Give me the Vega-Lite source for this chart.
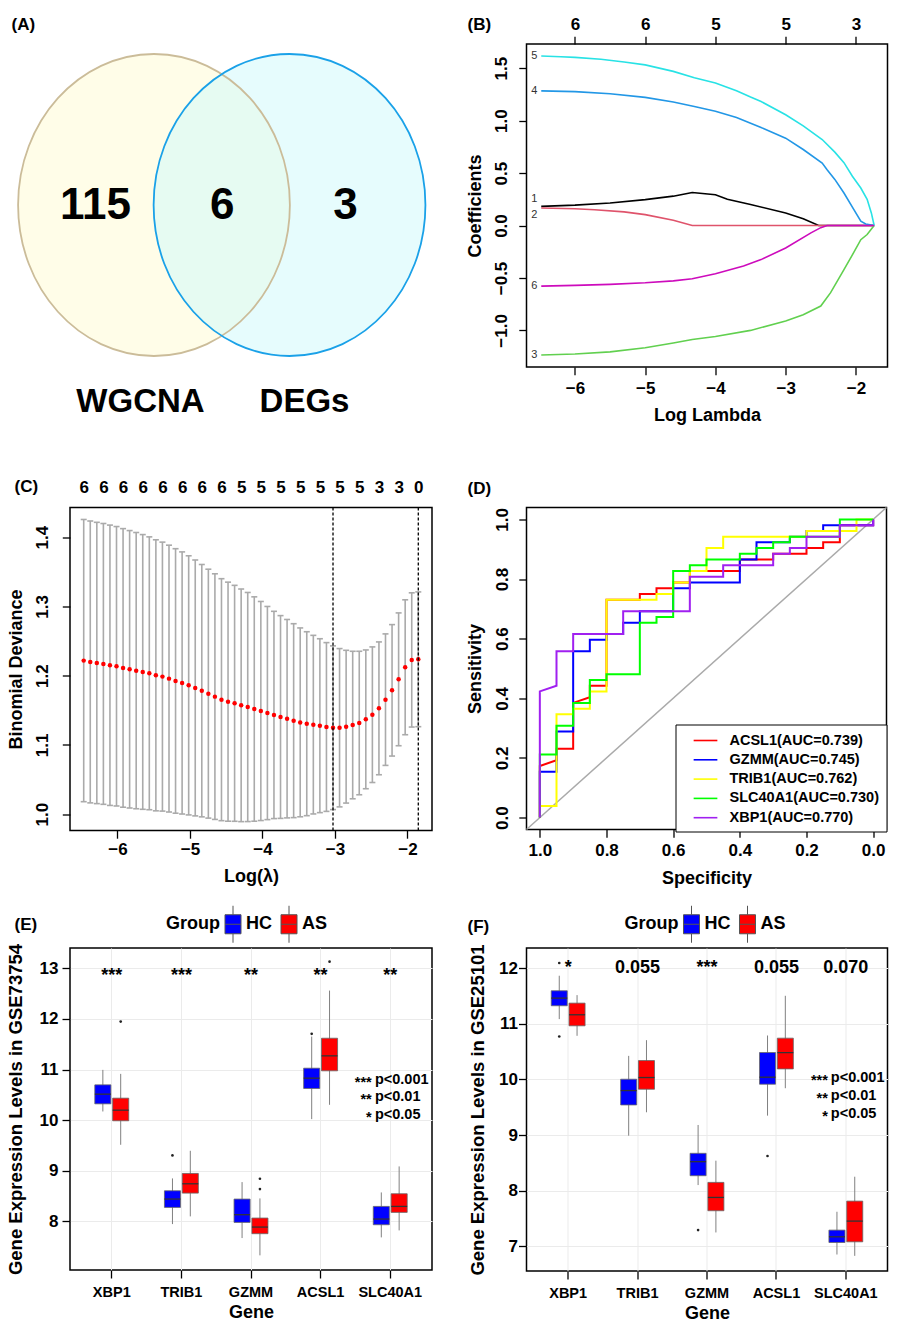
{
"$schema": "https://vega.github.io/schema/vega-lite/v6.json",
"padding": {"left": 5, "top": 14, "right": 5, "bottom": 0},
"background": "white",
"columns": 2,
"bounds": "flush",
"spacing": {"row": 117.5, "column": 94.5},
"resolve": {"scale": {"x": "independent", "y": "independent", "color": "independent", "fill": "independent", "stroke": "independent", "xOffset": "independent"}, "legend": {"color": "independent", "fill": "independent", "stroke": "independent"}},
"datasets": {
"venn": [
{"set": "WGCNA", "cx": 2.320, "cy": 5.347, "lx": 1.948, "ly": -0.347},
{"set": "DEGs", "cx": 6.064, "cy": 5.347, "lx": 6.478, "ly": -0.347}
],
"venn_n": [
{"n": "115", "x": 0.704, "y": 5.318},
{"n": "6", "x": 4.204, "y": 5.318},
{"n": "3", "x": 7.610, "y": 5.318}
],
"lasso": [
{"v":"1","x":-6.48,"y":0.183},{"v":"1","x":-6.0,"y":0.195},{"v":"1","x":-5.5,"y":0.215},{"v":"1","x":-5.0,"y":0.247},{"v":"1","x":-4.6,"y":0.28},{"v":"1","x":-4.33,"y":0.315},{"v":"1","x":-4.0,"y":0.293},{"v":"1","x":-3.83,"y":0.25},{"v":"1","x":-3.5,"y":0.2},{"v":"1","x":-3.0,"y":0.12},{"v":"1","x":-2.75,"y":0.065},{"v":"1","x":-2.53,"y":0.0},{"v":"1","x":-1.74,"y":0.0},
{"v":"2","x":-6.48,"y":0.167},{"v":"2","x":-6.0,"y":0.16},{"v":"2","x":-5.72,"y":0.151},{"v":"2","x":-5.3,"y":0.13},{"v":"2","x":-5.0,"y":0.104},{"v":"2","x":-4.6,"y":0.05},{"v":"2","x":-4.33,"y":0.0},{"v":"2","x":-1.74,"y":0.0},
{"v":"3","x":-6.48,"y":-1.235},{"v":"3","x":-6.0,"y":-1.225},{"v":"3","x":-5.5,"y":-1.205},{"v":"3","x":-5.0,"y":-1.165},{"v":"3","x":-4.6,"y":-1.12},{"v":"3","x":-4.33,"y":-1.086},{"v":"3","x":-4.0,"y":-1.058},{"v":"3","x":-3.5,"y":-1.0},{"v":"3","x":-3.0,"y":-0.91},{"v":"3","x":-2.75,"y":-0.85},{"v":"3","x":-2.5,"y":-0.768},{"v":"3","x":-2.36,"y":-0.64},{"v":"3","x":-2.17,"y":-0.42},{"v":"3","x":-2.05,"y":-0.28},{"v":"3","x":-1.93,"y":-0.135},{"v":"3","x":-1.84,"y":-0.086},{"v":"3","x":-1.74,"y":0.0},
{"v":"4","x":-6.48,"y":1.284},{"v":"4","x":-6.0,"y":1.277},{"v":"4","x":-5.5,"y":1.257},{"v":"4","x":-5.0,"y":1.222},{"v":"4","x":-4.6,"y":1.178},{"v":"4","x":-4.3,"y":1.135},{"v":"4","x":-4.0,"y":1.09},{"v":"4","x":-3.7,"y":1.03},{"v":"4","x":-3.35,"y":0.935},{"v":"4","x":-3.0,"y":0.833},{"v":"4","x":-2.75,"y":0.725},{"v":"4","x":-2.48,"y":0.596},{"v":"4","x":-2.41,"y":0.532},{"v":"4","x":-2.3,"y":0.44},{"v":"4","x":-2.17,"y":0.31},{"v":"4","x":-2.05,"y":0.175},{"v":"4","x":-1.93,"y":0.041},{"v":"4","x":-1.86,"y":0.015},{"v":"4","x":-1.74,"y":0.0},
{"v":"5","x":-6.48,"y":1.617},{"v":"5","x":-6.2,"y":1.61},{"v":"5","x":-6.0,"y":1.603},{"v":"5","x":-5.63,"y":1.586},{"v":"5","x":-5.3,"y":1.56},{"v":"5","x":-5.0,"y":1.532},{"v":"5","x":-4.6,"y":1.47},{"v":"5","x":-4.3,"y":1.41},{"v":"5","x":-4.0,"y":1.36},{"v":"5","x":-3.7,"y":1.285},{"v":"5","x":-3.5,"y":1.225},{"v":"5","x":-3.35,"y":1.183},{"v":"5","x":-3.0,"y":1.056},{"v":"5","x":-2.75,"y":0.95},{"v":"5","x":-2.48,"y":0.82},{"v":"5","x":-2.3,"y":0.70},{"v":"5","x":-2.17,"y":0.60},{"v":"5","x":-2.05,"y":0.47},{"v":"5","x":-1.93,"y":0.358},{"v":"5","x":-1.84,"y":0.25},{"v":"5","x":-1.78,"y":0.12},{"v":"5","x":-1.74,"y":0.0},
{"v":"6","x":-6.48,"y":-0.578},{"v":"6","x":-6.0,"y":-0.571},{"v":"6","x":-5.5,"y":-0.561},{"v":"6","x":-5.0,"y":-0.546},{"v":"6","x":-4.6,"y":-0.528},{"v":"6","x":-4.33,"y":-0.508},{"v":"6","x":-4.0,"y":-0.46},{"v":"6","x":-3.6,"y":-0.385},{"v":"6","x":-3.35,"y":-0.325},{"v":"6","x":-3.0,"y":-0.214},{"v":"6","x":-2.64,"y":-0.07},{"v":"6","x":-2.5,"y":-0.02},{"v":"6","x":-2.41,"y":0.0},{"v":"6","x":-1.74,"y":0.0}
],
"lasso_lab": [
{"v":"1","x":-6.58,"y":0.25},{"v":"2","x":-6.58,"y":0.105},{"v":"3","x":-6.58,"y":-1.235},{"v":"4","x":-6.58,"y":1.284},{"v":"5","x":-6.58,"y":1.617},{"v":"6","x":-6.58,"y":-0.575}
],
"cv": [
{"x":-6.466,"m":1.2217,"lo":1.0180,"hi":1.4255},{"x":-6.3755,"m":1.2198,"lo":1.0163,"hi":1.4233},{"x":-6.285,"m":1.2183,"lo":1.0152,"hi":1.4214},{"x":-6.1945,"m":1.2169,"lo":1.0142,"hi":1.4197},{"x":-6.104,"m":1.2150,"lo":1.0126,"hi":1.4174},{"x":-6.0135,"m":1.2135,"lo":1.0118,"hi":1.4153},{"x":-5.9231,"m":1.2111,"lo":1.0100,"hi":1.4123},{"x":-5.8326,"m":1.2092,"lo":1.0089,"hi":1.4095},{"x":-5.7421,"m":1.2072,"lo":1.0078,"hi":1.4067},{"x":-5.6516,"m":1.2053,"lo":1.0070,"hi":1.4037},
{"x":-5.5611,"m":1.2034,"lo":1.0064,"hi":1.4004},{"x":-5.4706,"m":1.2005,"lo":1.0048,"hi":1.3962},{"x":-5.3801,"m":1.1986,"lo":1.0044,"hi":1.3928},{"x":-5.2896,"m":1.1957,"lo":1.0031,"hi":1.3884},{"x":-5.1991,"m":1.1923,"lo":1.0014,"hi":1.3833},{"x":-5.1086,"m":1.1894,"lo":1.0002,"hi":1.3787},{"x":-5.0182,"m":1.1860,"lo":0.9989,"hi":1.3731},{"x":-4.9277,"m":1.1822,"lo":0.9975,"hi":1.3670},{"x":-4.8372,"m":1.1783,"lo":0.9961,"hi":1.3605},{"x":-4.7467,"m":1.1740,"lo":0.9943,"hi":1.3537},
{"x":-4.6562,"m":1.1697,"lo":0.9924,"hi":1.3471},{"x":-4.5657,"m":1.1653,"lo":0.9906,"hi":1.3400},{"x":-4.4752,"m":1.1624,"lo":0.9898,"hi":1.3350},{"x":-4.3847,"m":1.1600,"lo":0.9897,"hi":1.3304},{"x":-4.2942,"m":1.1571,"lo":0.9892,"hi":1.3251},{"x":-4.2037,"m":1.1547,"lo":0.9893,"hi":1.3201},{"x":-4.1133,"m":1.1518,"lo":0.9898,"hi":1.3138},{"x":-4.0228,"m":1.1489,"lo":0.9908,"hi":1.3071},{"x":-3.9323,"m":1.1460,"lo":0.9921,"hi":1.2999},{"x":-3.8418,"m":1.1432,"lo":0.9936,"hi":1.2929},
{"x":-3.7513,"m":1.1403,"lo":0.9939,"hi":1.2867},{"x":-3.6608,"m":1.1378,"lo":0.9946,"hi":1.2811},{"x":-3.5703,"m":1.1350,"lo":0.9950,"hi":1.2750},{"x":-3.4798,"m":1.1325,"lo":0.9962,"hi":1.2689},{"x":-3.3893,"m":1.1306,"lo":0.9978,"hi":1.2634},{"x":-3.2988,"m":1.1292,"lo":1.0003,"hi":1.2582},{"x":-3.2084,"m":1.1277,"lo":1.0022,"hi":1.2533},{"x":-3.1179,"m":1.1258,"lo":1.0040,"hi":1.2477},{"x":-3.0274,"m":1.1248,"lo":1.0066,"hi":1.2430},{"x":-2.9369,"m":1.1248,"lo":1.0105,"hi":1.2391},
{"x":-2.8464,"m":1.1263,"lo":1.0160,"hi":1.2366},{"x":-2.7559,"m":1.1287,"lo":1.0222,"hi":1.2352},{"x":-2.6654,"m":1.1316,"lo":1.0280,"hi":1.2352},{"x":-2.5749,"m":1.1369,"lo":1.0367,"hi":1.2371},{"x":-2.4844,"m":1.1436,"lo":1.0457,"hi":1.2415},{"x":-2.3939,"m":1.1528,"lo":1.0569,"hi":1.2487},{"x":-2.3035,"m":1.1653,"lo":1.0704,"hi":1.2603},{"x":-2.2130,"m":1.1788,"lo":1.0839,"hi":1.2737},{"x":-2.1225,"m":1.1947,"lo":1.0988,"hi":1.2906},{"x":-2.0320,"m":1.2121,"lo":1.1147,"hi":1.3095},
{"x":-1.9415,"m":1.2227,"lo":1.1258,"hi":1.3196},{"x":-1.8510,"m":1.2236,"lo":1.1263,"hi":1.3209}
],
"cv_lines": [{"x": -3.0274}, {"x": -1.851}],
"diag": [{"x1": 1.04, "y1": -0.04, "x2": -0.04, "y2": 1.04}],
"roc": [
{"g":"ACSL1(AUC=0.739)","i":0,"sp":1,"se":0},{"g":"ACSL1(AUC=0.739)","i":1,"sp":1,"se":0.1731},{"g":"ACSL1(AUC=0.739)","i":2,"sp":0.95,"se":0.1923},{"g":"ACSL1(AUC=0.739)","i":3,"sp":0.95,"se":0.2308},{"g":"ACSL1(AUC=0.739)","i":4,"sp":0.9,"se":0.2308},{"g":"ACSL1(AUC=0.739)","i":5,"sp":0.9,"se":0.3846},{"g":"ACSL1(AUC=0.739)","i":6,"sp":0.85,"se":0.4038},{"g":"ACSL1(AUC=0.739)","i":7,"sp":0.85,"se":0.4423},{"g":"ACSL1(AUC=0.739)","i":8,"sp":0.8,"se":0.4423},{"g":"ACSL1(AUC=0.739)","i":9,"sp":0.8,"se":0.7308},{"g":"ACSL1(AUC=0.739)","i":10,"sp":0.7,"se":0.7308},{"g":"ACSL1(AUC=0.739)","i":11,"sp":0.7,"se":0.75},{"g":"ACSL1(AUC=0.739)","i":12,"sp":0.65,"se":0.75},{"g":"ACSL1(AUC=0.739)","i":13,"sp":0.65,"se":0.7692},{"g":"ACSL1(AUC=0.739)","i":14,"sp":0.6,"se":0.7692},{"g":"ACSL1(AUC=0.739)","i":15,"sp":0.6,"se":0.7885},{"g":"ACSL1(AUC=0.739)","i":16,"sp":0.55,"se":0.7885},{"g":"ACSL1(AUC=0.739)","i":17,"sp":0.55,"se":0.8269},{"g":"ACSL1(AUC=0.739)","i":18,"sp":0.4,"se":0.8269},{"g":"ACSL1(AUC=0.739)","i":19,"sp":0.4,"se":0.8654},{"g":"ACSL1(AUC=0.739)","i":20,"sp":0.3,"se":0.8654},{"g":"ACSL1(AUC=0.739)","i":21,"sp":0.3,"se":0.8846},{"g":"ACSL1(AUC=0.739)","i":22,"sp":0.2,"se":0.8846},{"g":"ACSL1(AUC=0.739)","i":23,"sp":0.2,"se":0.9038},{"g":"ACSL1(AUC=0.739)","i":24,"sp":0.15,"se":0.9038},{"g":"ACSL1(AUC=0.739)","i":25,"sp":0.15,"se":0.9231},{"g":"ACSL1(AUC=0.739)","i":26,"sp":0.1,"se":0.9231},{"g":"ACSL1(AUC=0.739)","i":27,"sp":0.1,"se":0.9808},{"g":"ACSL1(AUC=0.739)","i":28,"sp":0,"se":0.9808},{"g":"ACSL1(AUC=0.739)","i":29,"sp":0,"se":1},
{"g":"GZMM(AUC=0.745)","i":0,"sp":1,"se":0},{"g":"GZMM(AUC=0.745)","i":1,"sp":1,"se":0.1538},{"g":"GZMM(AUC=0.745)","i":2,"sp":0.95,"se":0.1538},{"g":"GZMM(AUC=0.745)","i":3,"sp":0.95,"se":0.2885},{"g":"GZMM(AUC=0.745)","i":4,"sp":0.9,"se":0.2885},{"g":"GZMM(AUC=0.745)","i":5,"sp":0.9,"se":0.5577},{"g":"GZMM(AUC=0.745)","i":6,"sp":0.85,"se":0.5577},{"g":"GZMM(AUC=0.745)","i":7,"sp":0.85,"se":0.5962},{"g":"GZMM(AUC=0.745)","i":8,"sp":0.8,"se":0.5962},{"g":"GZMM(AUC=0.745)","i":9,"sp":0.8,"se":0.6154},{"g":"GZMM(AUC=0.745)","i":10,"sp":0.75,"se":0.6154},{"g":"GZMM(AUC=0.745)","i":11,"sp":0.75,"se":0.6538},{"g":"GZMM(AUC=0.745)","i":12,"sp":0.7,"se":0.6538},{"g":"GZMM(AUC=0.745)","i":13,"sp":0.7,"se":0.6923},{"g":"GZMM(AUC=0.745)","i":14,"sp":0.6,"se":0.6923},{"g":"GZMM(AUC=0.745)","i":15,"sp":0.6,"se":0.7692},{"g":"GZMM(AUC=0.745)","i":16,"sp":0.55,"se":0.7692},{"g":"GZMM(AUC=0.745)","i":17,"sp":0.55,"se":0.7885},{"g":"GZMM(AUC=0.745)","i":18,"sp":0.4,"se":0.7885},{"g":"GZMM(AUC=0.745)","i":19,"sp":0.4,"se":0.8654},{"g":"GZMM(AUC=0.745)","i":20,"sp":0.35,"se":0.8654},{"g":"GZMM(AUC=0.745)","i":21,"sp":0.35,"se":0.9231},{"g":"GZMM(AUC=0.745)","i":22,"sp":0.25,"se":0.9231},{"g":"GZMM(AUC=0.745)","i":23,"sp":0.25,"se":0.9423},{"g":"GZMM(AUC=0.745)","i":24,"sp":0.2,"se":0.9423},{"g":"GZMM(AUC=0.745)","i":25,"sp":0.2,"se":0.9615},{"g":"GZMM(AUC=0.745)","i":26,"sp":0.15,"se":0.9615},{"g":"GZMM(AUC=0.745)","i":27,"sp":0.15,"se":0.9808},{"g":"GZMM(AUC=0.745)","i":28,"sp":0,"se":0.9808},{"g":"GZMM(AUC=0.745)","i":29,"sp":0,"se":1},
{"g":"TRIB1(AUC=0.762)","i":0,"sp":1,"se":0},{"g":"TRIB1(AUC=0.762)","i":1,"sp":1,"se":0.0385},{"g":"TRIB1(AUC=0.762)","i":2,"sp":0.95,"se":0.0385},{"g":"TRIB1(AUC=0.762)","i":3,"sp":0.95,"se":0.3462},{"g":"TRIB1(AUC=0.762)","i":4,"sp":0.9,"se":0.3462},{"g":"TRIB1(AUC=0.762)","i":5,"sp":0.9,"se":0.3654},{"g":"TRIB1(AUC=0.762)","i":6,"sp":0.85,"se":0.3654},{"g":"TRIB1(AUC=0.762)","i":7,"sp":0.85,"se":0.4231},{"g":"TRIB1(AUC=0.762)","i":8,"sp":0.8,"se":0.4231},{"g":"TRIB1(AUC=0.762)","i":9,"sp":0.8,"se":0.7308},{"g":"TRIB1(AUC=0.762)","i":10,"sp":0.65,"se":0.7308},{"g":"TRIB1(AUC=0.762)","i":11,"sp":0.65,"se":0.75},{"g":"TRIB1(AUC=0.762)","i":12,"sp":0.6,"se":0.75},{"g":"TRIB1(AUC=0.762)","i":13,"sp":0.6,"se":0.7885},{"g":"TRIB1(AUC=0.762)","i":14,"sp":0.55,"se":0.7885},{"g":"TRIB1(AUC=0.762)","i":15,"sp":0.55,"se":0.8269},{"g":"TRIB1(AUC=0.762)","i":16,"sp":0.5,"se":0.8269},{"g":"TRIB1(AUC=0.762)","i":17,"sp":0.5,"se":0.9038},{"g":"TRIB1(AUC=0.762)","i":18,"sp":0.45,"se":0.9038},{"g":"TRIB1(AUC=0.762)","i":19,"sp":0.45,"se":0.9423},{"g":"TRIB1(AUC=0.762)","i":20,"sp":0.2,"se":0.9423},{"g":"TRIB1(AUC=0.762)","i":21,"sp":0.2,"se":0.9615},{"g":"TRIB1(AUC=0.762)","i":22,"sp":0.05,"se":0.9615},{"g":"TRIB1(AUC=0.762)","i":23,"sp":0.05,"se":1},{"g":"TRIB1(AUC=0.762)","i":24,"sp":0,"se":1},
{"g":"SLC40A1(AUC=0.730)","i":0,"sp":1,"se":0},{"g":"SLC40A1(AUC=0.730)","i":1,"sp":1,"se":0.2115},{"g":"SLC40A1(AUC=0.730)","i":2,"sp":0.95,"se":0.2115},{"g":"SLC40A1(AUC=0.730)","i":3,"sp":0.95,"se":0.3077},{"g":"SLC40A1(AUC=0.730)","i":4,"sp":0.9,"se":0.3077},{"g":"SLC40A1(AUC=0.730)","i":5,"sp":0.9,"se":0.3846},{"g":"SLC40A1(AUC=0.730)","i":6,"sp":0.85,"se":0.3846},{"g":"SLC40A1(AUC=0.730)","i":7,"sp":0.85,"se":0.4615},{"g":"SLC40A1(AUC=0.730)","i":8,"sp":0.8,"se":0.4615},{"g":"SLC40A1(AUC=0.730)","i":9,"sp":0.8,"se":0.4808},{"g":"SLC40A1(AUC=0.730)","i":10,"sp":0.7,"se":0.4808},{"g":"SLC40A1(AUC=0.730)","i":11,"sp":0.7,"se":0.6538},{"g":"SLC40A1(AUC=0.730)","i":12,"sp":0.65,"se":0.6538},{"g":"SLC40A1(AUC=0.730)","i":13,"sp":0.65,"se":0.6731},{"g":"SLC40A1(AUC=0.730)","i":14,"sp":0.6,"se":0.6731},{"g":"SLC40A1(AUC=0.730)","i":15,"sp":0.6,"se":0.8269},{"g":"SLC40A1(AUC=0.730)","i":16,"sp":0.55,"se":0.8269},{"g":"SLC40A1(AUC=0.730)","i":17,"sp":0.55,"se":0.8462},{"g":"SLC40A1(AUC=0.730)","i":18,"sp":0.5,"se":0.8462},{"g":"SLC40A1(AUC=0.730)","i":19,"sp":0.5,"se":0.8654},{"g":"SLC40A1(AUC=0.730)","i":20,"sp":0.4,"se":0.8654},{"g":"SLC40A1(AUC=0.730)","i":21,"sp":0.4,"se":0.8846},{"g":"SLC40A1(AUC=0.730)","i":22,"sp":0.35,"se":0.8846},{"g":"SLC40A1(AUC=0.730)","i":23,"sp":0.35,"se":0.9038},{"g":"SLC40A1(AUC=0.730)","i":24,"sp":0.3,"se":0.9038},{"g":"SLC40A1(AUC=0.730)","i":25,"sp":0.3,"se":0.9231},{"g":"SLC40A1(AUC=0.730)","i":26,"sp":0.25,"se":0.9231},{"g":"SLC40A1(AUC=0.730)","i":27,"sp":0.25,"se":0.9423},{"g":"SLC40A1(AUC=0.730)","i":28,"sp":0.1,"se":0.9423},{"g":"SLC40A1(AUC=0.730)","i":29,"sp":0.1,"se":1},{"g":"SLC40A1(AUC=0.730)","i":30,"sp":0,"se":1},
{"g":"XBP1(AUC=0.770)","i":0,"sp":1,"se":0},{"g":"XBP1(AUC=0.770)","i":1,"sp":1,"se":0.4231},{"g":"XBP1(AUC=0.770)","i":2,"sp":0.95,"se":0.4423},{"g":"XBP1(AUC=0.770)","i":3,"sp":0.95,"se":0.5577},{"g":"XBP1(AUC=0.770)","i":4,"sp":0.9,"se":0.5577},{"g":"XBP1(AUC=0.770)","i":5,"sp":0.9,"se":0.6154},{"g":"XBP1(AUC=0.770)","i":6,"sp":0.75,"se":0.6154},{"g":"XBP1(AUC=0.770)","i":7,"sp":0.75,"se":0.6923},{"g":"XBP1(AUC=0.770)","i":8,"sp":0.55,"se":0.6923},{"g":"XBP1(AUC=0.770)","i":9,"sp":0.55,"se":0.8077},{"g":"XBP1(AUC=0.770)","i":10,"sp":0.45,"se":0.8077},{"g":"XBP1(AUC=0.770)","i":11,"sp":0.45,"se":0.8462},{"g":"XBP1(AUC=0.770)","i":12,"sp":0.3,"se":0.8462},{"g":"XBP1(AUC=0.770)","i":13,"sp":0.3,"se":0.8846},{"g":"XBP1(AUC=0.770)","i":14,"sp":0.25,"se":0.8846},{"g":"XBP1(AUC=0.770)","i":15,"sp":0.25,"se":0.9038},{"g":"XBP1(AUC=0.770)","i":16,"sp":0.2,"se":0.9038},{"g":"XBP1(AUC=0.770)","i":17,"sp":0.2,"se":0.9423},{"g":"XBP1(AUC=0.770)","i":18,"sp":0.1,"se":0.9423},{"g":"XBP1(AUC=0.770)","i":19,"sp":0.1,"se":0.9808},{"g":"XBP1(AUC=0.770)","i":20,"sp":0,"se":0.9808},{"g":"XBP1(AUC=0.770)","i":21,"sp":0,"se":1}
],
"box_e": [
{"gene":"XBP1","group":"HC","lo":10.171,"q1":10.322,"med":10.513,"q3":10.697,"hi":10.993},
{"gene":"XBP1","group":"AS","lo":9.513,"q1":9.987,"med":10.197,"q3":10.434,"hi":10.914},
{"gene":"TRIB1","group":"HC","lo":7.947,"q1":8.276,"med":8.441,"q3":8.605,"hi":8.849},
{"gene":"TRIB1","group":"AS","lo":8.099,"q1":8.559,"med":8.743,"q3":8.947,"hi":9.395},
{"gene":"GZMM","group":"HC","lo":7.671,"q1":7.980,"med":8.132,"q3":8.441,"hi":8.776},
{"gene":"GZMM","group":"AS","lo":7.329,"q1":7.757,"med":7.888,"q3":8.066,"hi":8.454},
{"gene":"ACSL1","group":"HC","lo":10.020,"q1":10.625,"med":10.829,"q3":11.026,"hi":11.651},
{"gene":"ACSL1","group":"AS","lo":10.303,"q1":10.974,"med":11.270,"q3":11.618,"hi":12.559},
{"gene":"SLC40A1","group":"HC","lo":7.684,"q1":7.934,"med":8.046,"q3":8.296,"hi":8.572},
{"gene":"SLC40A1","group":"AS","lo":7.822,"q1":8.178,"med":8.296,"q3":8.546,"hi":9.086}
],
"out_e": [
{"gene":"XBP1","group":"AS","v":11.947},{"gene":"TRIB1","group":"HC","v":9.303},{"gene":"GZMM","group":"AS","v":8.842},{"gene":"GZMM","group":"AS","v":8.638},{"gene":"ACSL1","group":"HC","v":11.704},{"gene":"ACSL1","group":"AS","v":13.13}
],
"sig_e": [
{"gene":"XBP1","lab":"***","y":12.745},{"gene":"TRIB1","lab":"***","y":12.745},{"gene":"GZMM","lab":"**","y":12.745},{"gene":"ACSL1","lab":"**","y":12.745},{"gene":"SLC40A1","lab":"**","y":12.745}
],
"note_e": [
{"gene":"SLC40A1","s":"***","p":"p<0.001","y":10.795},{"gene":"SLC40A1","s":"**","p":"p<0.01","y":10.45},{"gene":"SLC40A1","s":"*","p":"p<0.05","y":10.105}
],
"box_f": [
{"gene":"XBP1","group":"HC","lo":11.083,"q1":11.323,"med":11.460,"q3":11.592,"hi":11.862},
{"gene":"XBP1","group":"AS","lo":10.783,"q1":10.963,"med":11.161,"q3":11.370,"hi":11.514},
{"gene":"TRIB1","group":"HC","lo":8.990,"q1":9.542,"med":9.800,"q3":10.004,"hi":10.423},
{"gene":"TRIB1","group":"AS","lo":9.410,"q1":9.824,"med":10.034,"q3":10.339,"hi":10.705},
{"gene":"GZMM","group":"HC","lo":8.103,"q1":8.271,"med":8.523,"q3":8.673,"hi":9.182},
{"gene":"GZMM","group":"AS","lo":7.252,"q1":7.642,"med":7.881,"q3":8.151,"hi":8.541},
{"gene":"ACSL1","group":"HC","lo":9.350,"q1":9.914,"med":10.040,"q3":10.483,"hi":10.789},
{"gene":"ACSL1","group":"AS","lo":9.842,"q1":10.189,"med":10.483,"q3":10.741,"hi":11.502},
{"gene":"SLC40A1","group":"HC","lo":6.856,"q1":7.072,"med":7.174,"q3":7.294,"hi":7.624},
{"gene":"SLC40A1","group":"AS","lo":6.832,"q1":7.084,"med":7.456,"q3":7.815,"hi":8.253}
],
"out_f": [
{"gene":"XBP1","group":"HC","v":12.09},{"gene":"XBP1","group":"HC","v":10.771},{"gene":"GZMM","group":"HC","v":7.294},{"gene":"ACSL1","group":"HC","v":8.625}
],
"sig_f": [
{"gene":"XBP1","lab":"*","y":11.903},{"gene":"TRIB1","lab":"0.055","y":11.903},{"gene":"GZMM","lab":"***","y":11.903},{"gene":"ACSL1","lab":"0.055","y":11.903},{"gene":"SLC40A1","lab":"0.070","y":11.903}
],
"note_f": [
{"gene":"SLC40A1","s":"***","p":"p<0.001","y":10.02},{"gene":"SLC40A1","s":"**","p":"p<0.01","y":9.70},{"gene":"SLC40A1","s":"*","p":"p<0.05","y":9.38}
]
},
"concat": [
{
"width": 362, "height": 346,
"view": {"stroke": null},
"title": {"text": "(A)", "dx": -58.5, "offset": 10},
"layer": [
{"data": {"name": "venn"},
 "mark": {"type": "point", "shape": "M 0.9,0 C 0.9,0.5523 0.4971,1 0,1 C -0.4971,1 -0.9,0.5523 -0.9,0 C -0.9,-0.5523 -0.4971,-1 0,-1 C 0.4971,-1 0.9,-0.5523 0.9,0 Z", "size": 91204, "filled": true, "opacity": 1, "fillOpacity": 0.5, "strokeWidth": 0},
 "encoding": {
  "x": {"field": "cx", "type": "quantitative", "scale": {"domain": [0, 10], "nice": false, "zero": false}, "axis": null},
  "y": {"field": "cy", "type": "quantitative", "scale": {"domain": [0, 10], "nice": false, "zero": false}, "axis": null},
  "fill": {"field": "set", "type": "nominal", "scale": {"domain": ["WGCNA", "DEGs"], "range": ["#FFFBD1", "#CDF9FB"]}, "legend": null}
 }},
{"data": {"name": "venn"},
 "mark": {"type": "point", "shape": "M 0.9,0 C 0.9,0.5523 0.4971,1 0,1 C -0.4971,1 -0.9,0.5523 -0.9,0 C -0.9,-0.5523 -0.4971,-1 0,-1 C 0.4971,-1 0.9,-0.5523 0.9,0 Z", "size": 91204, "filled": false, "opacity": 1, "strokeWidth": 1.8},
 "encoding": {
  "x": {"field": "cx", "type": "quantitative"},
  "y": {"field": "cy", "type": "quantitative"},
  "stroke": {"field": "set", "type": "nominal", "scale": {"domain": ["WGCNA", "DEGs"], "range": ["#CBBC99", "#1AA1E8"]}, "legend": null}
 }},
{"data": {"name": "venn_n"},
 "mark": {"type": "text", "fontSize": 44, "fontWeight": "bold", "baseline": "middle", "color": "black"},
 "encoding": {"x": {"field": "x", "type": "quantitative"}, "y": {"field": "y", "type": "quantitative"}, "text": {"field": "n"}}},
{"data": {"name": "venn"},
 "mark": {"type": "text", "fontSize": 33, "fontWeight": "bold", "baseline": "middle", "color": "black"},
 "encoding": {"x": {"field": "lx", "type": "quantitative"}, "y": {"field": "ly", "type": "quantitative"}, "text": {"field": "set"}}}
]
},
{
"width": 361, "height": 323,
"title": {"text": "(B)", "dx": -59, "offset": -19},
"resolve": {"axis": {"x": "independent"}},
"layer": [
{"data": {"name": "lasso"},
 "mark": {"type": "line", "strokeWidth": 1.6},
 "encoding": {
  "x": {"field": "x", "type": "quantitative", "scale": {"domain": [-6.69, -1.55], "nice": false, "zero": false},
        "axis": {"values": [-6, -5, -4, -3, -2], "format": "d", "title": "Log Lambda", "labelFontSize": 17, "tickSize": 7.7, "labelPadding": 5.5, "titleFontSize": 18, "titlePadding": 10}},
  "y": {"field": "y", "type": "quantitative", "scale": {"domain": [-1.349, 1.731], "nice": false, "zero": false},
        "axis": {"values": [-1, -0.5, 0, 0.5, 1, 1.5], "format": ".1f", "title": "Coefficients", "labelAngle": -90, "labelAlign": "center", "labelBaseline": "bottom", "labelFontSize": 17, "tickSize": 7.7, "labelPadding": 8, "titleFontSize": 18, "titlePadding": 12, "minExtent": 30, "maxExtent": 30}},
  "color": {"field": "v", "type": "nominal", "scale": {"domain": ["1", "2", "3", "4", "5", "6"], "range": ["#000000", "#DF536B", "#61D04F", "#2297E6", "#28E2E5", "#CD0BBC"]}, "legend": null}
 }},
{"data": {"name": "lasso_lab"},
 "mark": {"type": "text", "fontSize": 11, "color": "#333333"},
 "encoding": {
  "x": {"field": "x", "type": "quantitative", "axis": {"orient": "top", "values": [-6, -5, -4, -3, -2], "labelExpr": "datum.value <= -5 ? '6' : datum.value <= -3 ? '5' : '3'", "title": null, "labelFontSize": 17, "tickSize": 7.7, "labelPadding": 3}},
  "y": {"field": "y", "type": "quantitative"},
  "text": {"field": "v"}
 }}
]
},
{
"width": 362, "height": 323,
"title": {"text": "(C)", "dx": -55.5, "offset": -17},
"resolve": {"axis": {"x": "independent"}},
"layer": [
{"data": {"name": "cv"},
 "mark": {"type": "rule", "color": "#AAAAAA", "strokeWidth": 1.6},
 "encoding": {
  "x": {"field": "x", "type": "quantitative", "scale": {"domain": [-6.655, -1.662], "nice": false, "zero": false},
        "axis": {"values": [-6, -5, -4, -3, -2], "format": "d", "title": "Log(λ)", "labelFontSize": 17, "tickSize": 7.7, "labelPadding": 3.5, "titleFontSize": 18, "titlePadding": 9.5}},
  "y": {"field": "lo", "type": "quantitative", "scale": {"domain": [0.9764, 1.4428], "nice": false, "zero": false},
        "axis": {"values": [1.0, 1.1, 1.2, 1.3, 1.4], "format": ".1f", "title": "Binomial Deviance", "labelAngle": -90, "labelAlign": "center", "labelBaseline": "bottom", "labelFontSize": 17, "tickSize": 7.7, "labelPadding": 10.5, "titleFontSize": 18, "titlePadding": 15, "minExtent": 30, "maxExtent": 30}},
  "y2": {"field": "hi"}
 }},
{"data": {"name": "cv"},
 "mark": {"type": "tick", "orient": "horizontal", "color": "#AAAAAA", "thickness": 1.6, "size": 6, "opacity": 1},
 "encoding": {"x": {"field": "x", "type": "quantitative", "axis": null}, "y": {"field": "hi", "type": "quantitative"}}},
{"data": {"name": "cv"},
 "mark": {"type": "tick", "orient": "horizontal", "color": "#AAAAAA", "thickness": 1.6, "size": 6, "opacity": 1},
 "encoding": {"x": {"field": "x", "type": "quantitative", "axis": null}, "y": {"field": "lo", "type": "quantitative"}}},
{"data": {"name": "cv"},
 "mark": {"type": "point", "filled": true, "color": "#FF0000", "size": 20, "opacity": 1},
 "encoding": {"x": {"field": "x", "type": "quantitative", "axis": null}, "y": {"field": "m", "type": "quantitative"}}},
{"data": {"name": "cv_lines"},
 "mark": {"type": "rule", "color": "black", "strokeWidth": 1.3, "strokeDash": [3, 2]},
 "encoding": {"x": {"field": "x", "type": "quantitative", "axis": {"orient": "top", "values": [-6.466, -6.1945, -5.9231, -5.6516, -5.3801, -5.1086, -4.8372, -4.5657, -4.2942, -4.0228, -3.7513, -3.4798, -3.2084, -2.9369, -2.6654, -2.3939, -2.1225, -1.851], "labelExpr": "datum.value < -4.4 ? '6' : datum.value < -2.5 ? '5' : datum.value < -1.9 ? '3' : '0'", "title": null, "ticks": false, "labelFontSize": 17, "labelPadding": 11}}}}
]
},
{
"width": 360, "height": 322,
"title": {"text": "(D)", "dx": -59, "offset": 8.5},
"layer": [
{"data": {"name": "diag"},
 "mark": {"type": "rule", "color": "#AAAAAA", "strokeWidth": 1.5},
 "encoding": {
  "x": {"field": "x1", "type": "quantitative", "scale": {"domain": [-0.04, 1.04], "reverse": true, "nice": false, "zero": false},
        "axis": {"values": [0, 0.2, 0.4, 0.6, 0.8, 1], "format": ".1f", "title": "Specificity", "labelFontSize": 17, "tickSize": 7.7, "labelPadding": 5, "titleFontSize": 18, "titlePadding": 11}},
  "y": {"field": "y1", "type": "quantitative", "scale": {"domain": [-0.04, 1.04], "nice": false, "zero": false},
        "axis": {"values": [0, 0.2, 0.4, 0.6, 0.8, 1], "format": ".1f", "title": "Sensitivity", "labelAngle": -90, "labelAlign": "center", "labelBaseline": "bottom", "labelFontSize": 17, "tickSize": 7.7, "labelPadding": 7, "titleFontSize": 18, "titlePadding": 12.5, "minExtent": 30, "maxExtent": 30}},
  "x2": {"field": "x2"},
  "y2": {"field": "y2"}
 }},
{"data": {"name": "roc"},
 "mark": {"type": "line", "strokeWidth": 2},
 "encoding": {
  "x": {"field": "sp", "type": "quantitative"},
  "y": {"field": "se", "type": "quantitative"},
  "order": {"field": "i", "type": "quantitative"},
  "color": {"field": "g", "type": "nominal",
   "scale": {"domain": ["ACSL1(AUC=0.739)", "GZMM(AUC=0.745)", "TRIB1(AUC=0.762)", "SLC40A1(AUC=0.730)", "XBP1(AUC=0.770)"], "range": ["#FF0000", "#0000FF", "#FFFF00", "#00FF00", "#A020F0"]},
   "legend": {"orient": "none", "legendX": 149, "legendY": 217, "title": null, "labelFontSize": 14.5, "labelFontWeight": "bold", "labelColor": "black", "labelLimit": 0, "symbolType": "M -1.5,0 L 1.5,0", "symbolSize": 250, "symbolStrokeWidth": 1.6, "labelOffset": 15, "symbolOffset": 14, "padding": 7, "rowPadding": 3.3, "strokeColor": "black", "fillColor": "white"}}
 }}
]
},
{
"width": 362, "height": 322,
"title": {"text": "(E)", "dx": -55.5, "offset": -18.5},
"layer": [
{"data": {"name": "box_e"},
 "mark": {"type": "rule", "color": "#808080", "strokeWidth": 1},
 "encoding": {
  "x": {"field": "gene", "type": "nominal", "scale": {"domain": ["XBP1", "TRIB1", "GZMM", "ACSL1", "SLC40A1"], "paddingInner": 0, "paddingOuter": 0.1},
        "axis": {"title": "Gene", "labelAngle": 0, "labelFontSize": 14.5, "tickSize": 8, "labelPadding": 7, "titleFontSize": 18, "titlePadding": 5, "grid": true, "gridColor": "#EBEBEB", "bandPosition": 0.5}},
  "xOffset": {"field": "group", "type": "nominal", "scale": {"domain": ["HC", "AS"], "paddingInner": 0.1, "paddingOuter": 1}},
  "y": {"field": "lo", "type": "quantitative", "scale": {"domain": [7.04, 13.4], "nice": false, "zero": false},
        "axis": {"title": "Gene Expression Levels in GSE73754", "values": [8, 9, 10, 11, 12, 13], "format": "d", "labelFontSize": 17, "tickSize": 8, "labelPadding": 4, "titleFontSize": 18.5, "titlePadding": 7.5, "grid": true, "gridColor": "#EBEBEB", "minExtent": 37, "maxExtent": 37}},
  "y2": {"field": "hi"}
 }},
{"data": {"name": "box_e"},
 "mark": {"type": "bar", "stroke": "#666666", "strokeWidth": 0.8},
 "encoding": {
  "x": {"field": "gene", "type": "nominal"},
  "xOffset": {"field": "group", "type": "nominal"},
  "y": {"field": "q1", "type": "quantitative"},
  "y2": {"field": "q3"},
  "fill": {"field": "group", "type": "nominal", "scale": {"domain": ["HC", "AS"], "range": ["#0000FF", "#FF0000"]},
   "legend": {"orient": "none", "legendX": 96, "legendY": -33, "direction": "horizontal", "title": "Group", "titleOrient": "left", "titleFontSize": 18, "titleFontWeight": "bold", "titleColor": "black", "titleAnchor": "start", "titleBaseline": "top", "titlePadding": 4, "labelFontSize": 18, "labelFontWeight": "bold", "labelColor": "black", "labelOffset": 4, "columnPadding": 7, "symbolType": "M -1,-1.19 L 1,-1.19 L 1,1.19 L -1,1.19 Z M 0,-1.19 L 0,-2.31 M 0,1.19 L 0,2.31 M -1,0 L 1,0", "symbolSize": 256, "symbolStrokeColor": "#555555", "symbolStrokeWidth": 1, "symbolOpacity": 1, "padding": 0}}
 }},
{"data": {"name": "box_e"},
 "mark": {"type": "tick", "color": "#333333", "thickness": 1.3, "size": 16, "opacity": 1},
 "encoding": {"x": {"field": "gene", "type": "nominal"}, "xOffset": {"field": "group", "type": "nominal"}, "y": {"field": "med", "type": "quantitative"}}},
{"data": {"name": "out_e"},
 "mark": {"type": "point", "filled": true, "color": "#222222", "size": 7, "opacity": 1},
 "encoding": {"x": {"field": "gene", "type": "nominal"}, "xOffset": {"field": "group", "type": "nominal"}, "y": {"field": "v", "type": "quantitative"}}},
{"data": {"name": "sig_e"},
 "mark": {"type": "text", "fontSize": 18, "fontWeight": "bold", "baseline": "alphabetic", "color": "black"},
 "encoding": {"x": {"field": "gene", "type": "nominal"}, "y": {"field": "y", "type": "quantitative"}, "text": {"field": "lab"}}},
{"data": {"name": "note_e"},
 "mark": {"type": "text", "fontSize": 14.5, "fontWeight": "bold", "baseline": "middle", "align": "right", "dx": -18.5, "dy": 3, "color": "black"},
 "encoding": {"x": {"field": "gene", "type": "nominal"}, "y": {"field": "y", "type": "quantitative"}, "text": {"field": "s"}}},
{"data": {"name": "note_e"},
 "mark": {"type": "text", "fontSize": 14.5, "fontWeight": "bold", "baseline": "middle", "align": "left", "dx": -15.3, "color": "black"},
 "encoding": {"x": {"field": "gene", "type": "nominal"}, "y": {"field": "y", "type": "quantitative"}, "text": {"field": "p"}}}
]
},
{
"width": 361, "height": 323,
"title": {"text": "(F)", "dx": -59, "offset": -21},
"layer": [
{"data": {"name": "box_f"},
 "mark": {"type": "rule", "color": "#808080", "strokeWidth": 1},
 "encoding": {
  "x": {"field": "gene", "type": "nominal", "scale": {"domain": ["XBP1", "TRIB1", "GZMM", "ACSL1", "SLC40A1"], "paddingInner": 0, "paddingOuter": 0.1},
        "axis": {"title": "Gene", "labelAngle": 0, "labelFontSize": 14.5, "tickSize": 8, "labelPadding": 7, "titleFontSize": 18, "titlePadding": 5, "grid": true, "gridColor": "#EBEBEB", "bandPosition": 0.5}},
  "xOffset": {"field": "group", "type": "nominal", "scale": {"domain": ["HC", "AS"], "paddingInner": 0.1, "paddingOuter": 1}},
  "y": {"field": "lo", "type": "quantitative", "scale": {"domain": [6.56, 12.36], "nice": false, "zero": false},
        "axis": {"title": "Gene Expression Levels in GSE25101", "values": [7, 8, 9, 10, 11, 12], "format": "d", "labelFontSize": 17, "tickSize": 8, "labelPadding": 1, "titleFontSize": 18.5, "titlePadding": 8, "grid": true, "gridColor": "#EBEBEB", "minExtent": 31, "maxExtent": 31}},
  "y2": {"field": "hi"}
 }},
{"data": {"name": "box_f"},
 "mark": {"type": "bar", "stroke": "#666666", "strokeWidth": 0.8},
 "encoding": {
  "x": {"field": "gene", "type": "nominal"},
  "xOffset": {"field": "group", "type": "nominal"},
  "y": {"field": "q1", "type": "quantitative"},
  "y2": {"field": "q3"},
  "fill": {"field": "group", "type": "nominal", "scale": {"domain": ["HC", "AS"], "range": ["#0000FF", "#FF0000"]},
   "legend": {"orient": "none", "legendX": 98, "legendY": -33, "direction": "horizontal", "title": "Group", "titleOrient": "left", "titleFontSize": 18, "titleFontWeight": "bold", "titleColor": "black", "titleAnchor": "start", "titleBaseline": "top", "titlePadding": 4, "labelFontSize": 18, "labelFontWeight": "bold", "labelColor": "black", "labelOffset": 4, "columnPadding": 7, "symbolType": "M -1,-1.19 L 1,-1.19 L 1,1.19 L -1,1.19 Z M 0,-1.19 L 0,-2.31 M 0,1.19 L 0,2.31 M -1,0 L 1,0", "symbolSize": 256, "symbolStrokeColor": "#555555", "symbolStrokeWidth": 1, "symbolOpacity": 1, "padding": 0}}
 }},
{"data": {"name": "box_f"},
 "mark": {"type": "tick", "color": "#333333", "thickness": 1.3, "size": 16, "opacity": 1},
 "encoding": {"x": {"field": "gene", "type": "nominal"}, "xOffset": {"field": "group", "type": "nominal"}, "y": {"field": "med", "type": "quantitative"}}},
{"data": {"name": "out_f"},
 "mark": {"type": "point", "filled": true, "color": "#222222", "size": 7, "opacity": 1},
 "encoding": {"x": {"field": "gene", "type": "nominal"}, "xOffset": {"field": "group", "type": "nominal"}, "y": {"field": "v", "type": "quantitative"}}},
{"data": {"name": "sig_f"},
 "mark": {"type": "text", "fontSize": 18, "fontWeight": "bold", "baseline": "alphabetic", "color": "black"},
 "encoding": {"x": {"field": "gene", "type": "nominal"}, "y": {"field": "y", "type": "quantitative"}, "text": {"field": "lab"}}},
{"data": {"name": "note_f"},
 "mark": {"type": "text", "fontSize": 14.5, "fontWeight": "bold", "baseline": "middle", "align": "right", "dx": -18, "dy": 3, "color": "black"},
 "encoding": {"x": {"field": "gene", "type": "nominal"}, "y": {"field": "y", "type": "quantitative"}, "text": {"field": "s"}}},
{"data": {"name": "note_f"},
 "mark": {"type": "text", "fontSize": 14.5, "fontWeight": "bold", "baseline": "middle", "align": "left", "dx": -15, "color": "black"},
 "encoding": {"x": {"field": "gene", "type": "nominal"}, "y": {"field": "y", "type": "quantitative"}, "text": {"field": "p"}}}
]
}
],
"config": {
"font": "Liberation Sans",
"view": {"stroke": "black", "strokeWidth": 1.5},
"axis": {"domain": false, "grid": false, "labelColor": "black", "titleColor": "black", "tickColor": "black", "tickWidth": 1.3, "labelFontWeight": "bold", "titleFontWeight": "bold", "labelFlush": false, "labelOverlap": false, "labelBound": false},
"title": {"fontSize": 17, "fontWeight": "bold", "color": "black", "anchor": "start", "frame": "group", "baseline": "alphabetic"},
"legend": {"labelColor": "black", "titleColor": "black"}
}
}
